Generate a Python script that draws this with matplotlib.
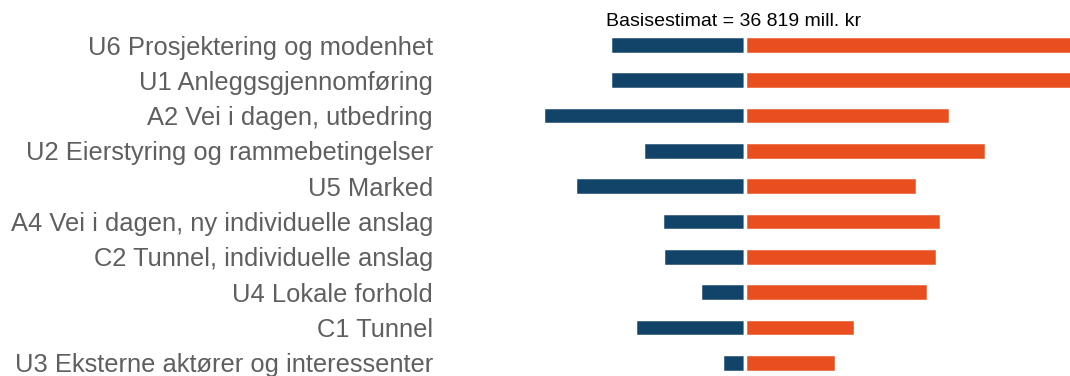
import numpy as np
import matplotlib
matplotlib.use("Agg")
import matplotlib.pyplot as plt

# risk drivers, largest spread first (deviation from base estimate, mill. kr)
drivers = [
    "U6 Prosjektering og modenhet",
    "U1 Anleggsgjennomføring",
    "A2 Vei i dagen, utbedring",
    "U2 Eierstyring og rammebetingelser",
    "U5 Marked",
    "A4 Vei i dagen, ny individuelle anslag",
    "C2 Tunnel, individuelle anslag",
    "U4 Lokale forhold",
    "C1 Tunnel",
    "U3 Eksterne aktører og interessenter",
]
low = [-1350, -1350, -2020, -1020, -1700, -830, -820, -450, -1100, -230]
high = [3600, 3500, 2050, 2410, 1720, 1960, 1920, 1830, 1100, 910]
base_label = "Basisestimat = 36 819 mill. kr"

blue = "#124469"
orange = "#E84E1E"

plt.rcParams['font.family'] = ['Liberation Sans', 'DejaVu Sans']

fig = plt.figure(figsize=(10.7, 3.76), dpi=100)
ax = fig.add_axes([540 / 1070, 0, 1 - 540 / 1070, 1])

y = np.arange(len(drivers))
ax.barh(y, low, height=0.5, color=blue, edgecolor="white", linewidth=2.5)
ax.barh(y, high, height=0.5, color=orange, edgecolor="white", linewidth=2.5)

ax.set_xlim(-2050, 3250)
ax.set_ylim(9.377, -1.275)
ax.set_yticks(y)
ax.set_yticklabels(drivers, fontsize=18.4, color="#5f5f5f")
ax.tick_params(axis="y", length=0, pad=77)
ax.set_xticks([])
for s in ax.spines.values():
    s.set_visible(False)

ax.text(-110, -0.68, base_label, ha="center", va="center", fontsize=14, color="black")

fig.savefig("out.png", dpi=100)
